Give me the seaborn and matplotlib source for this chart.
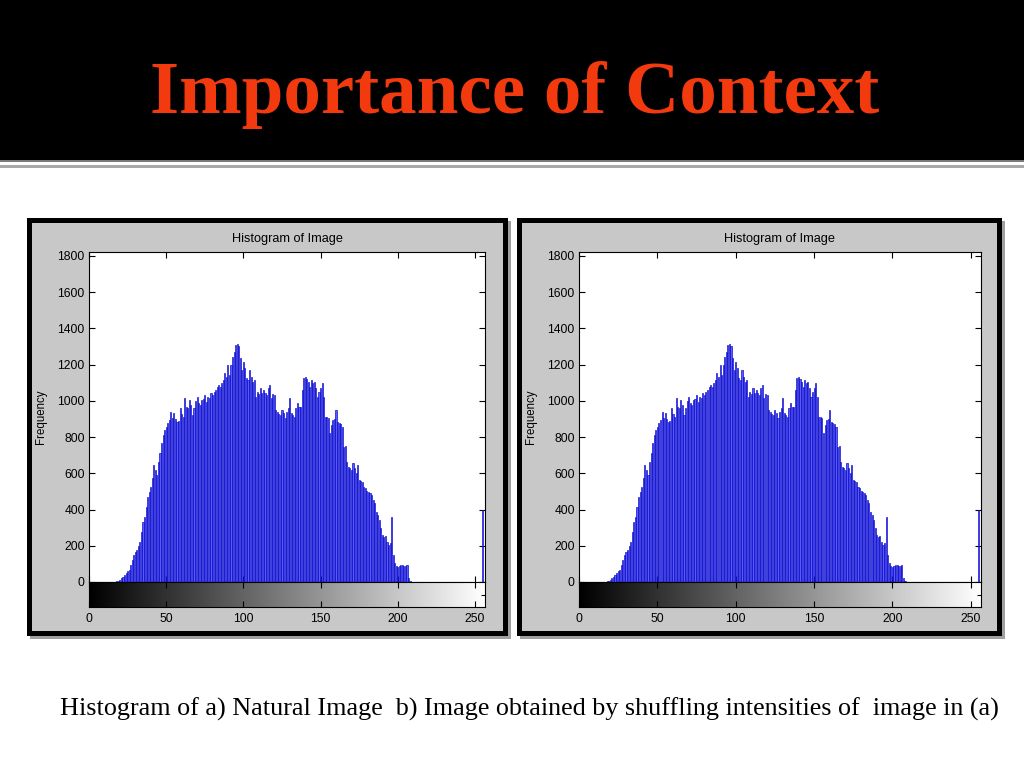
import numpy as np
import pandas as pd
import matplotlib
matplotlib.use("Agg")
import matplotlib.pyplot as plt
from matplotlib.patches import Rectangle
import seaborn as sns

# ---------------- data ----------------
title_text = "Importance of Context"
caption_text = "Histogram of a) Natural Image  b) Image obtained by shuffling intensities of  image in (a)"
panel_title = "Histogram of Image"
y_label = "Frequency"
x_ticks = [0, 50, 100, 150, 200, 250]
y_ticks = [0, 200, 400, 600, 800, 1000, 1200, 1400, 1600, 1800]

intensity = list(range(256))
counts = (
    [0] * 17
    + [2, 3, 8, 12, 20, 30, 40, 52, 60, 66,            # 17-26
       95, 122, 150, 168, 177, 200, 223, 278, 330, 361,  # 27-36
       416, 470, 499, 526, 572, 646, 618, 591, 660, 710,  # 37-46
       766, 810, 839, 858, 880, 895, 941, 904, 931, 900,  # 47-56
       885, 890, 959, 930, 913, 1014, 968, 959, 1005, 980,  # 57-66
       922, 960, 1000, 1023, 990, 977, 1005, 1010, 1033, 996,  # 67-76
       1023, 1015, 1042, 1030, 1051, 1060, 1079, 1088, 1075, 1097,  # 77-86
       1115, 1152, 1130, 1198, 1143, 1200, 1244, 1272, 1309, 1312,  # 87-96
       1303, 1235, 1171, 1217, 1180, 1125, 1115, 1171, 1130, 1106,  # 97-106
       1115, 1023, 1051, 1040, 1070, 1042, 1060, 1042, 1033, 1070,  # 107-116
       1088, 1014, 1040, 1033, 950, 941, 930, 922, 950, 931,  # 117-126
       904, 941, 960, 1014, 931, 920, 913, 959, 987, 968,  # 127-136
       968, 1060, 1125, 1134, 1120, 1106, 1079, 1115, 1100, 1106,  # 137-146
       1070, 1023, 1050, 1070, 1097, 1023, 913, 910, 904, 821,  # 147-156
       867, 895, 900, 950, 885, 876, 870, 858, 747, 751,  # 157-166
       664, 637, 630, 618, 659, 628, 604, 646, 563, 560,  # 167-176
       554, 526, 517, 505, 495, 493, 480, 450, 434, 388,  # 177-186
       370, 342, 300, 260, 250, 254, 220, 204, 213, 361,  # 187-196
       149, 107, 88, 85, 90, 92, 92, 90, 88, 92,  # 197-206
       20, 7, 2]  # 207-209
    + [0] * 45  # 210-254
    + [400]  # 255
)
assert len(counts) == 256

# shuffled image has the same intensity histogram
hist_df = pd.DataFrame({"intensity": intensity, "count": counts})

# ---------------- figure ----------------
sns.set_theme(style="white")
plt.rcParams["font.family"] = ["Liberation Sans", "DejaVu Sans"]

W, H = 1024, 768
fig = plt.figure(figsize=(W / 100, H / 100), dpi=100)
fig.patch.set_facecolor("white")


def rect(x0, y0, x1, y1):
    return [x0 / W, 1 - y1 / H, (x1 - x0) / W, (y1 - y0) / H]


bg = fig.add_axes([0, 0, 1, 1])
bg.set_xlim(0, W)
bg.set_ylim(H, 0)
bg.axis("off")
bg.set_zorder(0)

# title band
bg.add_patch(Rectangle((0, 0), W, 160, color="black", lw=0))
bg.add_patch(Rectangle((0, 160), W, 1.6, color="#7a7a7a", lw=0))
bg.add_patch(Rectangle((0, 165), W, 3, color="#a8a8a8", lw=0))
bg.text(515, 95, title_text, ha="center", va="center", fontsize=54,
        fontweight="bold", color="#F23A0E", family=["Liberation Serif", "DejaVu Serif"])

bg.text(60, 709, caption_text, ha="left", va="center", fontsize=18.8,
        color="black", family=["Liberation Serif", "DejaVu Serif"])

panels = [
    dict(outer=(27, 218, 508, 636), ax=(89, 252, 485, 582), ylab_x=41),
    dict(outer=(517, 218, 1002, 636), ax=(579, 252, 981, 582), ylab_x=531),
]

gradient = np.linspace(0, 1, 256).reshape(1, -1)

for p in panels:
    ox0, oy0, ox1, oy1 = p["outer"]
    # shadow, border, face
    bg.add_patch(Rectangle((ox0 + 3, oy0 + 3), ox1 - ox0, oy1 - oy0, color="#a0a0a0", lw=0))
    bg.add_patch(Rectangle((ox0, oy0), ox1 - ox0, oy1 - oy0, color="black", lw=0))
    bg.add_patch(Rectangle((ox0 + 5, oy0 + 5), ox1 - ox0 - 10, oy1 - oy0 - 10, color="#c8c8c8", lw=0))

    ax0, ay0, ax1, ay1 = p["ax"]
    ax = fig.add_axes(rect(ax0, ay0, ax1, ay1))
    ax.set_facecolor("white")
    sns.histplot(data=hist_df, x="intensity", weights="count", discrete=True,
                 shrink=0.7, color="#5a5aff", edgecolor="#0000c8", linewidth=0.45,
                 alpha=1, ax=ax)
    ax.set_xlim(0, 256.5)
    ax.set_ylim(0, 1822)
    ax.set_xticks(x_ticks)
    ax.set_yticks(y_ticks)
    ax.set_yticklabels([str(t) for t in y_ticks])
    ax.tick_params(axis="both", direction="in", length=4, width=0.8, color="black",
                   top=True, right=True, bottom=True, left=True,
                   labelbottom=False, labelsize=8.7, labelcolor="black", pad=3)
    ax.set_xlabel("")
    ax.set_ylabel("")
    for s in ax.spines.values():
        s.set_color("black")
        s.set_linewidth(0.8)
        s.set_visible(True)

    # gray colour bar below
    cb = fig.add_axes(rect(ax0, ay1, ax1, ay1 + 25))
    cb.imshow(gradient, cmap="gray", aspect="auto", extent=(0, 256.5, 0, 1))
    cb.set_xlim(0, 256.5)
    cb.set_ylim(0, 1)
    cb.set_xticks(x_ticks)
    cb.set_xticklabels([str(t) for t in x_ticks])
    cb.set_yticks([0.5])
    cb.set_yticklabels([])
    cb.tick_params(axis="x", direction="in", length=4, width=0.8, color="black",
                   top=True, bottom=True, labelsize=8.7, labelcolor="black", pad=4)
    cb.tick_params(axis="y", direction="in", length=3, width=0.8, color="black",
                   left=False, right=True)
    for s in cb.spines.values():
        s.set_color("black")
        s.set_linewidth(0.8)

    cx = (ax0 + ax1) / 2
    bg.text(cx, 239, panel_title, ha="center", va="center", fontsize=9.2, color="black")
    bg.text(p["ylab_x"], (ay0 + ay1) / 2, y_label, rotation=90, ha="center",
            va="center", fontsize=8.3, color="black")

fig.savefig("out.png", dpi=100, facecolor="white")
